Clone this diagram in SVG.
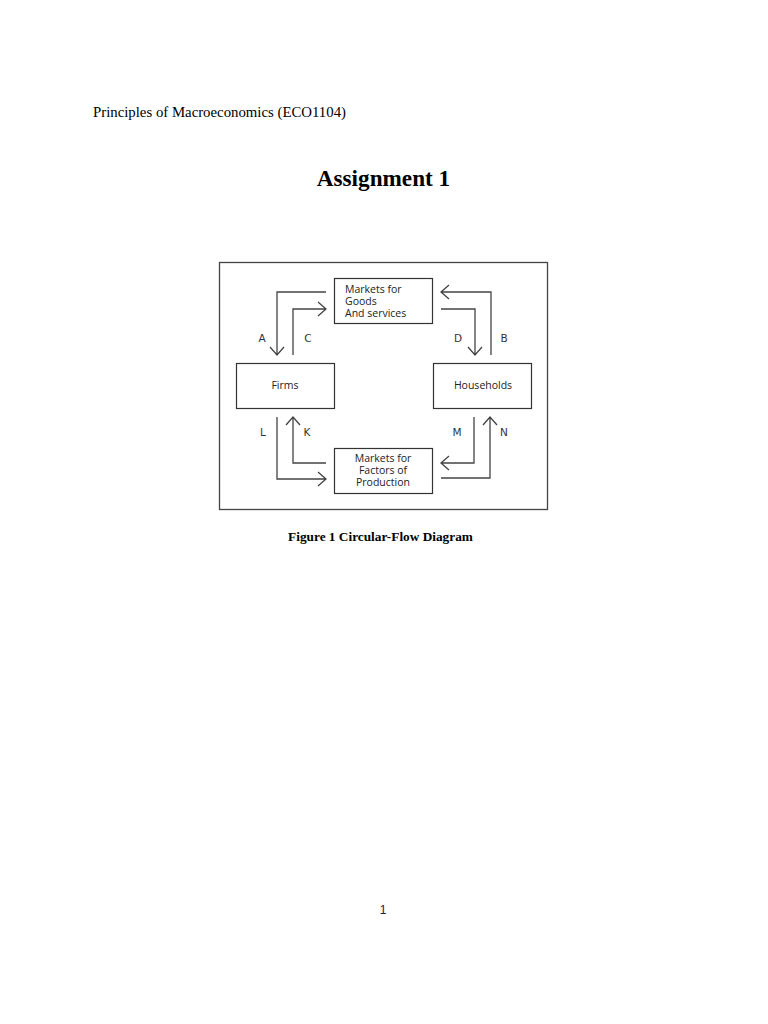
<svg xmlns="http://www.w3.org/2000/svg" width="768" height="1024" viewBox="0 0 768 1024">
<style>
.box{fill:#fff;stroke:#333;stroke-width:1.2}
.ln{fill:none;stroke:#444;stroke-width:1.3}
.t{font-family:"Open Sans","DejaVu Sans",sans-serif;font-size:10.5px;fill:#222}
.lab{font-family:"DejaVu Sans",sans-serif;font-size:10.5px;fill:#333}
.serif{font-family:"Liberation Serif",serif;fill:#000}
</style>
<rect width="768" height="1024" fill="#fff"/>
<text class="serif" x="93" y="117" font-size="14.8">Principles of Macroeconomics (ECO1104)</text>
<text class="serif" x="383.5" y="186" font-size="23.2" font-weight="bold" text-anchor="middle">Assignment 1</text>
<rect x="219.5" y="262.5" width="328" height="247" fill="none" stroke="#444" stroke-width="1.3"/>
<g id="goods"><rect class="box" x="334.5" y="278.5" width="98" height="45"/>
<text class="t" x="345" y="293">Markets for</text><text class="t" x="345" y="305">Goods</text><text class="t" x="345" y="317">And services</text></g>
<g id="firms"><rect class="box" x="236.5" y="363.5" width="98" height="45"/>
<text class="t" x="285" y="389" text-anchor="middle">Firms</text></g>
<g id="households"><rect class="box" x="433.5" y="363.5" width="98" height="45"/>
<text class="t" x="483" y="389" text-anchor="middle">Households</text></g>
<g id="factors"><rect class="box" x="334.5" y="448.5" width="98" height="45"/>
<text class="t" x="383" y="462" text-anchor="middle">Markets for</text><text class="t" x="383" y="474" text-anchor="middle">Factors of</text><text class="t" x="383" y="486" text-anchor="middle">Production</text></g>
<g id="connectors">
<path class="ln" d="M326,292 H277 V355 M270,347 L277,355 L284,347"/>
<path class="ln" d="M293,355 V309 H326 M318,302 L326,309 L318,316"/>
<path class="ln" d="M491,355 V292 H441 M449,285 L441,292 L449,299"/>
<path class="ln" d="M441,309 H475 V355 M468,347 L475,355 L482,347"/>
<path class="ln" d="M277,417 V479 H326 M318,472 L326,479 L318,486"/>
<path class="ln" d="M326,463 H293 V417 M286,425 L293,417 L300,425"/>
<path class="ln" d="M474,417 V463 H441 M449,456 L441,463 L449,470"/>
<path class="ln" d="M441,478 H490 V417 M483,425 L490,417 L497,425"/>
</g>
<g id="labels">
<text class="lab" x="262" y="342" text-anchor="middle">A</text>
<text class="lab" x="308" y="342" text-anchor="middle">C</text>
<text class="lab" x="458" y="342" text-anchor="middle">D</text>
<text class="lab" x="504" y="342" text-anchor="middle">B</text>
<text class="lab" x="263" y="436" text-anchor="middle">L</text>
<text class="lab" x="307" y="436" text-anchor="middle">K</text>
<text class="lab" x="457" y="436" text-anchor="middle">M</text>
<text class="lab" x="504" y="436" text-anchor="middle">N</text>
</g>
<text class="serif" x="380.5" y="541" font-size="13.3" font-weight="bold" text-anchor="middle">Figure 1 Circular-Flow Diagram</text>
<text x="383" y="914" font-family="Liberation Sans,sans-serif" font-size="12" fill="#222" text-anchor="middle">1</text>
</svg>
